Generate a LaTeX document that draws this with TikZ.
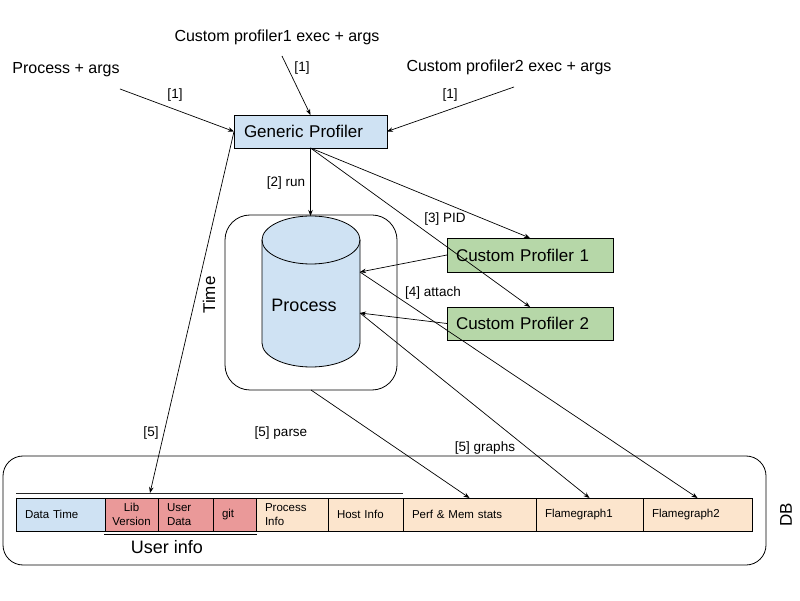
\documentclass[tikz,border=0pt]{standalone}
\usepackage{fontspec}
\setmainfont{Liberation Sans}
\usetikzlibrary{arrows.meta,calc}
\definecolor{pblue}{HTML}{CFE2F3}
\definecolor{pgreen}{HTML}{B6D7A8}
\definecolor{pred}{HTML}{EA9999}
\definecolor{ppeach}{HTML}{FCE5CD}
\begin{document}
\begin{tikzpicture}[x=1pt,y=1pt,
  conn/.style={draw=black, line width=0.7pt, -{Stealth[length=6pt,width=4.5pt]}},
  txtbig/.style={font=\fontsize{16}{19}\selectfont, inner sep=0pt},
  lbl/.style={font=\fontsize{13.5}{16}\selectfont, inner sep=0pt},
  boxnode/.style={draw=black, line width=0.8pt, outer sep=0pt, align=left, inner ysep=0pt, font=\fontsize{17}{20}\selectfont},
  cellbox/.style={draw=black, line width=0.8pt, outer sep=0pt, minimum height=33pt, inner xsep=9pt, inner ysep=0pt, align=left, anchor=west, font=\fontsize{11.5}{13.5}\selectfont},
]
\useasboundingbox (0,0) rectangle (800,600);

% containers
\node[draw=black, line width=0.8pt, rounded corners=20pt, minimum width=763pt, minimum height=109pt, outer sep=0pt] (db) at (384.5,89.5) {};
\node[draw=black, line width=0.8pt, rounded corners=25pt, minimum width=172pt, minimum height=175pt, outer sep=0pt] (pc) at (311,297.5) {};

% cylinder
\draw[fill=pblue, line width=0.8pt] (262,360) -- (262,257) arc[start angle=180, end angle=360, x radius=49pt, y radius=24pt] -- (360,360) arc[start angle=0, end angle=180, x radius=49pt, y radius=24pt] -- cycle;
\draw[line width=0.8pt] (262,360) arc[start angle=180, end angle=360, x radius=49pt, y radius=24pt];
\node[font=\fontsize{18}{21}\selectfont, inner sep=0pt] (proc) at (304,295) {Process};
\coordinate (cyltop) at (310.5,384);
\coordinate (pa) at (360,328);
\coordinate (pb) at (360,287);

% main boxes
\node[boxnode, fill=pblue, minimum height=33pt, text width=133pt, inner xsep=10pt] (gp) at (310.5,468.5) {Generic Profiler};
\node[boxnode, fill=pgreen, minimum height=34pt, text width=148pt, inner xsep=9pt] (cp1) at (530,345) {Custom Profiler 1};
\node[boxnode, fill=pgreen, minimum height=33pt, text width=148pt, inner xsep=9pt] (cp2) at (530,276.5) {Custom Profiler 2};

% input texts
\node[txtbig] (t0) at (66,530) {Process + args};
\node[txtbig] (t1) at (277,563) {Custom profiler1 exec + args};
\node[txtbig] (t2) at (509,533) {Custom profiler2 exec + args};
\coordinate (i0) at (120,511);
\coordinate (i1) at (282,544);
\coordinate (i2) at (514,513);

% DB row
\node[cellbox, fill=pblue, text width=71pt] (dt) at (16,85.5) {Data Time};
\node[cellbox, fill=pred, text width=49pt, inner xsep=2pt, align=center] (lib) at (105,85.5) {Lib\\Version};
\node[cellbox, fill=pred, text width=37pt, inner xsep=9pt] (ud) at (158,85.5) {User\\Data};
\node[cellbox, fill=pred, text width=25pt] (git) at (213,85.5) {git};
\node[cellbox, fill=ppeach, text width=54pt] (pi) at (256,85.5) {Process\\Info};
\node[cellbox, fill=ppeach, text width=57pt] (hi) at (328,85.5) {Host Info};
\node[cellbox, fill=ppeach, text width=115pt] (perf) at (403,85.5) {Perf \& Mem stats};
\node[cellbox, fill=ppeach, text width=89pt] (fg1) at (536,85.5) {Flamegraph1};
\node[cellbox, fill=ppeach, text width=91pt] (fg2) at (643,85.5) {Flamegraph2};

\coordinate (ra) at (16,107);
\coordinate (rb) at (403,107);
\draw[line width=0.8pt, black!85] (ra) -- (rb);
\coordinate (ua) at (104,66);
\coordinate (ub) at (257,66);
\draw[line width=0.8pt] (ua) -- (ub);
\node[font=\fontsize{18}{21}\selectfont, inner sep=0pt] (ui) at (167,53) {User info};
\node[font=\fontsize{17}{20}\selectfont, inner sep=0pt, rotate=90] (dbl) at (786,85.5) {DB};
\node[font=\fontsize{17}{20}\selectfont, inner sep=0pt, rotate=90] (tm) at (209,305) {Time};
\coordinate (tl) at (150,107);

% labels
\node[lbl] (l1a) at (175,505) {[1]};
\node[lbl] (l1b) at (302,532) {[1]};
\node[lbl] (l1c) at (450,505) {[1]};
\node[lbl] (l2) at (286,417) {[2] run};
\node[lbl] (l3) at (445,381) {[3] PID};
\node[lbl] (l4) at (433,307) {[4] attach};
\node[lbl] (l5) at (151,167) {[5]};
\node[lbl] (l5p) at (281,167) {[5] parse};
\node[lbl] (l5g) at (485,152) {[5] graphs};

% connectors
\draw[conn] (i0) -- (gp.west);
\draw[conn] (i1) -- (gp.north);
\draw[conn] (i2) -- (gp.east);
\draw[conn] (gp.south) -- (cyltop);
\draw[conn] (gp.south) -- (cp1.north);
\draw[conn] (gp.south) -- (cp2.north);
\draw[conn] (cp1.west) -- (pa);
\draw[conn] (cp2.west) -- (pb);
\draw[conn] (pa) -- (fg2.north);
\draw[conn] (pb) -- (fg1.north);
\draw[conn] (pc.south) -- (perf.north);
\draw[conn] (gp.west) -- (tl);
\end{tikzpicture}
\end{document}
